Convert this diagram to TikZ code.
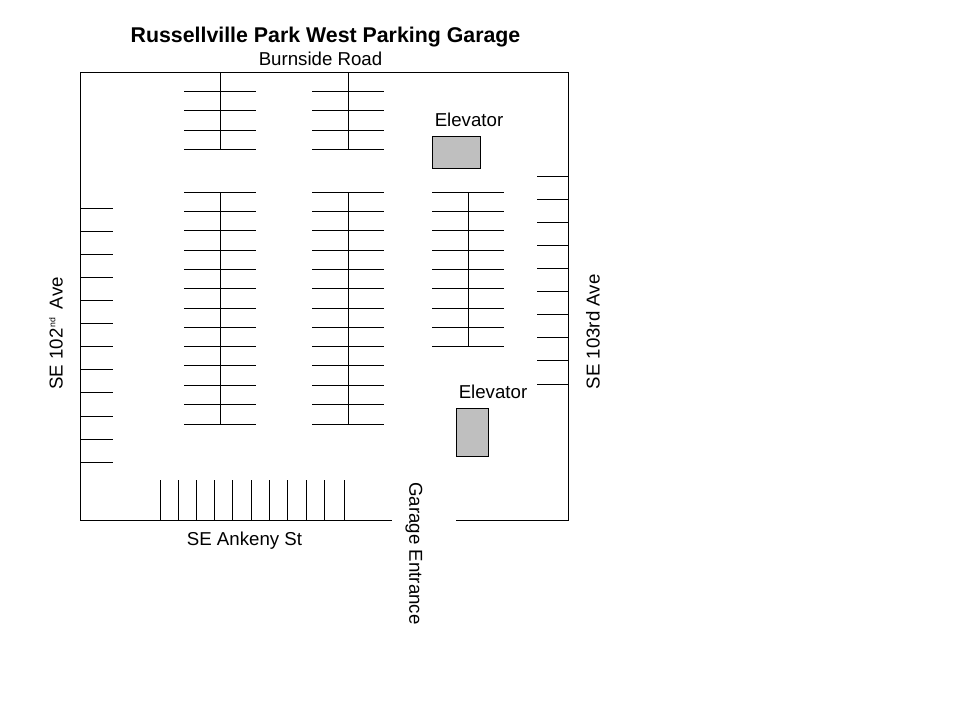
\documentclass[tikz,border=0pt]{standalone}
\usepackage{fontspec}
\setmainfont{Liberation Sans}
\tikzset{
  wall/.style={draw=black,line width=0.7pt,line cap=rect},
  stall/.style={draw=black,line width=0.7pt},
  lift/.style={draw=black,fill=black!25,line width=0.7pt},
  lbl/.style={inner sep=0pt,font=\fontsize{14}{16}\selectfont,text=black},
  ttl/.style={inner sep=0pt,font=\fontsize{16}{18}\selectfont\bfseries,text=black}
}
\begin{document}
\begin{tikzpicture}[x=0.75pt,y=-0.75pt]
\useasboundingbox (0,0) rectangle (960,720);
\begin{scope}[shift={(0.5,0.5)}]
% outer walls
\draw[wall] (391,520) -- (80,520) -- (80,72) -- (568,72) -- (568,520) -- (456,520);
% double rows
\foreach \c in {220,348}{
  \draw[stall] (\c,72) -- (\c,149);
  \foreach \y in {91,110,130,149}
    \draw[stall] (\c-36.5,\y) -- (\c+35.5,\y);
  \draw[stall] (\c,192) -- (\c,424);
  \foreach \y in {192,211,230,250,269,288,308,327,346,365,385,404,424}
    \draw[stall] (\c-36.5,\y) -- (\c+35.5,\y);
}
% third double row
\draw[stall] (468,192) -- (468,346);
\foreach \y in {192,211,230,250,269,288,308,327,346}
  \draw[stall] (431.5,\y) -- (503.5,\y);
% left wall stalls
\foreach \y in {208,231,254,277,300,323,346,369,392,416,439,462}
  \draw[stall] (80,\y) -- (112.5,\y);
% right wall stalls
\foreach \y in {176,199,222,245,268,291,314,337,360,384}
  \draw[stall] (536.5,\y) -- (568,\y);
% bottom wall stalls
\foreach \x in {160,178,196,214,232,251,269,287,306,324,344}
  \draw[stall] (\x,479.5) -- (\x,520);
% elevators
\draw[lift] (432,136) rectangle (480,168);
\draw[lift] (456,408) rectangle (488,456);
\end{scope}
% labels
\node[ttl] (title) at (325.5,37) {Russellville Park West Parking Garage};
\node[lbl] (north) at (320.5,59) {Burnside Road};
\node[lbl] (elevA) at (469,120) {Elevator};
\node[lbl] (elevB) at (493,392) {Elevator};
\node[lbl] (south) at (244.5,541) {SE Ankeny St};
\node[lbl,rotate=90] (west) at (56,333.5) {SE 102\raisebox{0.75ex}{\fontsize{6.5}{7}\selectfont\,nd}\ \,Ave};
\node[lbl,rotate=90] (east) at (593,332) {SE 103rd Ave};
\node[lbl,rotate=-90] (gate) at (414,553.5) {Garage Entrance};
\end{tikzpicture}
\end{document}
